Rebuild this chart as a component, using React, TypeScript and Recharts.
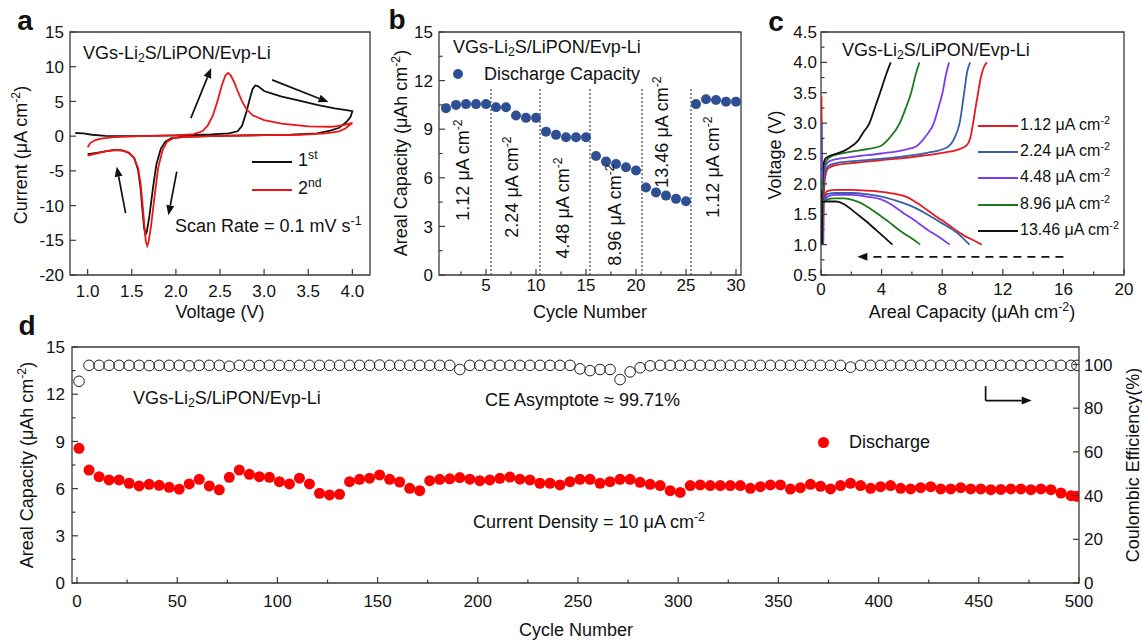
import React from 'react'
import {
  ComposedChart,
  ScatterChart,
  Line,
  Scatter,
  XAxis,
  YAxis,
  ReferenceLine,
  ReferenceArea,
} from 'recharts'

const FONT = '"Liberation Sans", Arial, Helvetica, sans-serif'
const AXIS = '#3a3a3a'
const INK = '#111'

// ---- a: cyclic voltammetry, [voltage (V), current (µA cm-2)]
const cvFirst: [number, number][] = [
  [0.86, 0.45], [0.95, 0.4], [1.05, 0.2], [1.2, 0.05], [1.5, 0], [2.0, 0.1], [2.4, 0.25],
  [2.6, 0.4], [2.7, 0.7], [2.75, 1.5], [2.8, 3.5], [2.84, 5.5], [2.87, 6.8], [2.9, 7.3],
  [2.93, 7.2], [3.0, 6.5], [3.1, 6.1], [3.2, 5.7], [3.4, 5.1], [3.6, 4.5], [3.8, 4.0],
  [3.95, 3.7], [4.0, 3.6], [3.98, 2.8], [3.93, 2.0], [3.85, 1.2], [3.75, 0.8], [3.6, 0.4],
  [3.3, 0.2], [3.0, 0.15], [2.5, 0.05], [2.1, -0.1], [1.95, -0.3], [1.88, -0.8], [1.83, -1.8],
  [1.78, -4], [1.74, -7.5], [1.7, -11.5], [1.67, -13.8], [1.655, -14.2], [1.64, -13.2],
  [1.62, -10.5], [1.6, -7.5], [1.57, -4.8], [1.53, -3.2], [1.47, -2.4], [1.4, -2.1],
  [1.3, -2.0], [1.2, -2.2], [1.1, -2.4], [1.0, -2.6],
]
const cvSecond: [number, number][] = [
  [1.0, -1.6], [1.03, -1.0], [1.08, -0.6], [1.15, -0.35], [1.3, -0.15], [1.6, 0], [2.0, 0.1],
  [2.2, 0.3], [2.3, 0.7], [2.36, 1.5], [2.42, 3], [2.47, 5], [2.52, 7.3], [2.56, 8.7],
  [2.59, 9.1], [2.62, 8.8], [2.66, 7.8], [2.7, 6.5], [2.75, 5.0], [2.8, 3.9], [2.87, 3.0],
  [3.0, 2.3], [3.2, 1.8], [3.5, 1.4], [3.76, 1.35], [3.9, 1.6], [4.0, 1.9], [3.97, 1.6],
  [3.92, 1.1], [3.85, 0.7], [3.7, 0.4], [3.4, 0.2], [3.0, 0.15], [2.5, 0.05], [2.1, -0.1],
  [1.97, -0.3], [1.9, -0.8], [1.85, -2], [1.8, -4.5], [1.76, -8.5], [1.72, -12.8],
  [1.69, -15.3], [1.675, -15.8], [1.66, -15.2], [1.64, -12.5], [1.62, -9.5], [1.6, -6.8],
  [1.57, -4.5], [1.52, -3.0], [1.45, -2.3], [1.38, -2.0], [1.3, -2.0], [1.2, -2.2],
  [1.1, -2.5], [1.0, -2.8],
]
// scan direction arrows: [fromV, fromI, toV, toI]
const cvArrows: [number, number, number, number][] = [
  [2.17, 2.6, 2.4, 9.8],
  [3.09, 8.1, 3.73, 4.9],
  [1.43, -11.1, 1.33, -4.4],
  [2.01, -5.1, 1.915, -11.4],
]

// ---- b: rate capability
const rateCycle = [1, 2, 3, 4, 5, 6, 7, 8, 9, 10, 11, 12, 13, 14, 15, 16, 17, 18, 19, 20, 21, 22, 23, 24, 25, 26, 27, 28, 29, 30]
const rateCapacity = [
  10.3, 10.5, 10.55, 10.55, 10.55, 10.35, 10.35, 9.85, 9.7, 9.7,
  8.85, 8.65, 8.5, 8.5, 8.5, 7.35, 7.0, 6.85, 6.65, 6.45,
  5.4, 5.1, 4.9, 4.7, 4.55, 10.55, 10.85, 10.8, 10.7, 10.7,
]
const rateBreaks = [5.5, 10.4, 15.4, 20.6, 25.5]

// ---- c: charge / discharge profiles, [capacity (µAh cm-2), voltage (V)]
const gcdRates = ['1.12', '2.24', '4.48', '8.96', '13.46']
const gcdColors = ['#e8171d', '#3a5daa', '#7c3cf0', '#1c7a1c', '#111111']
const gcdCharge: [number, number][][] = [
  [[0.15, 1.0], [0.18, 1.6], [0.22, 1.95], [0.3, 2.15], [0.45, 2.25], [1, 2.31], [2, 2.34], [4, 2.39], [6, 2.44], [8, 2.51], [9, 2.56], [9.6, 2.63], [9.85, 2.75], [10.04, 3.0], [10.2, 3.25], [10.37, 3.5], [10.55, 3.75], [10.75, 3.92], [10.95, 4.0]],
  [[0.12, 1.0], [0.15, 1.7], [0.2, 2.05], [0.3, 2.22], [0.5, 2.3], [1, 2.34], [3, 2.39], [5, 2.44], [7, 2.51], [8.3, 2.6], [8.8, 2.75], [9.15, 3.0], [9.45, 3.5], [9.65, 3.85], [9.85, 4.0]],
  [[0.1, 1.0], [0.13, 1.8], [0.2, 2.12], [0.3, 2.3], [0.6, 2.38], [2, 2.44], [4, 2.5], [5.5, 2.56], [6.3, 2.62], [6.9, 2.78], [7.45, 3.0], [7.75, 3.25], [8.02, 3.5], [8.25, 3.8], [8.45, 4.0]],
  [[0.08, 1.0], [0.11, 1.85], [0.18, 2.2], [0.3, 2.36], [0.6, 2.44], [1, 2.48], [2, 2.53], [3, 2.57], [3.9, 2.62], [4.5, 2.75], [5.2, 3.0], [5.6, 3.25], [5.95, 3.5], [6.25, 3.8], [6.5, 4.0]],
  [[0.06, 1.0], [0.09, 1.9], [0.15, 2.3], [0.3, 2.42], [0.8, 2.48], [1.4, 2.53], [1.9, 2.6], [2.4, 2.7], [2.8, 2.85], [3.2, 3.0], [3.55, 3.25], [3.9, 3.5], [4.3, 3.8], [4.6, 4.0]],
]
const gcdDischarge: [number, number][][] = [
  [[0.03, 3.45], [0.06, 2.5], [0.1, 1.8], [0.2, 1.78], [0.4, 1.88], [1, 1.9], [2, 1.9], [3, 1.89], [4, 1.87], [5, 1.83], [5.6, 1.79], [6, 1.74], [6.5, 1.66], [7, 1.57], [7.5, 1.48], [8, 1.4], [8.5, 1.31], [9, 1.22], [9.5, 1.14], [10, 1.08], [10.6, 1.0]],
  [[0.03, 3.0], [0.06, 2.3], [0.1, 1.75], [0.2, 1.74], [0.4, 1.83], [1, 1.85], [2, 1.85], [3, 1.83], [4, 1.79], [5, 1.72], [6, 1.63], [7, 1.5], [8, 1.35], [9, 1.19], [9.8, 1.0]],
  [[0.03, 2.5], [0.06, 2.0], [0.1, 1.72], [0.25, 1.74], [0.5, 1.8], [1, 1.82], [2, 1.82], [3, 1.79], [4, 1.74], [4.5, 1.68], [5, 1.6], [5.5, 1.51], [6, 1.43], [7, 1.25], [8, 1.09], [8.5, 1.0]],
  [[0.03, 2.1], [0.06, 1.8], [0.1, 1.68], [0.3, 1.73], [0.8, 1.76], [1.5, 1.76], [2, 1.74], [2.5, 1.7], [3, 1.63], [3.5, 1.55], [4, 1.46], [4.5, 1.37], [5, 1.27], [5.5, 1.18], [6, 1.1], [6.55, 1.0]],
  [[0.03, 1.9], [0.08, 1.7], [0.3, 1.71], [1, 1.71], [1.5, 1.67], [2, 1.58], [2.5, 1.48], [3, 1.38], [3.5, 1.27], [4, 1.16], [4.4, 1.07], [4.72, 1.0]],
]

// ---- d: long-term cycling at 10 µA cm-2
const longCycle = [
  1, 6, 11, 16, 21, 26, 31, 36, 41, 46,
  51, 56, 61, 66, 71, 76, 81, 86, 91, 96,
  101, 106, 111, 116, 121, 126, 131, 136, 141, 146,
  151, 156, 161, 166, 171, 176, 181, 186, 191, 196,
  201, 206, 211, 216, 221, 226, 231, 236, 241, 246,
  251, 256, 261, 266, 271, 276, 281, 286, 291, 296,
  301, 306, 311, 316, 321, 326, 331, 336, 341, 346,
  351, 356, 361, 366, 371, 376, 381, 386, 391, 396,
  401, 406, 411, 416, 421, 426, 431, 436, 441, 446,
  451, 456, 461, 466, 471, 476, 481, 486, 491, 496,
  499,
]
const longCapacity = [
  8.56, 7.18, 6.76, 6.55, 6.55, 6.34, 6.17, 6.27, 6.21, 6.08,
  5.96, 6.3, 6.59, 6.17, 5.92, 6.72, 7.18, 6.91, 6.76, 6.72,
  6.44, 6.3, 6.66, 6.3, 5.7, 5.6, 5.64, 6.44, 6.59, 6.66,
  6.87, 6.59, 6.42, 6.02, 5.87, 6.5, 6.59, 6.62, 6.7, 6.6,
  6.5, 6.55, 6.65, 6.73, 6.6, 6.55, 6.34, 6.34, 6.23, 6.44,
  6.59, 6.59, 6.34, 6.44, 6.59, 6.59, 6.4, 6.27, 6.19, 5.87,
  5.76, 6.19, 6.23, 6.19, 6.19, 6.19, 6.19, 6.02, 6.12, 6.23,
  6.23, 5.97, 6.06, 6.27, 6.15, 5.98, 6.19, 6.34, 6.19, 6.02,
  6.12, 6.19, 6.02, 5.98, 6.06, 6.12, 5.98, 5.98, 6.06, 5.98,
  5.98, 5.93, 5.95, 5.98, 5.98, 5.93, 5.98, 5.93, 5.72, 5.55,
  5.51,
]
const longCE = [
  92.3, 99.6, 99.6, 99.6, 99.6, 99.6, 99.6, 99.5, 99.6, 99.6,
  99.6, 99.4, 99.6, 99.6, 99.6, 99.2, 99.6, 99.6, 99.5, 99.6,
  99.6, 99.5, 99.6, 99.6, 99.6, 99.6, 99.6, 99.6, 99.6, 99.6,
  99.7, 99.6, 99.6, 99.6, 99.6, 99.6, 99.6, 99.6, 97.7, 99.6,
  99.6, 99.6, 99.6, 99.6, 99.6, 99.6, 99.6, 99.6, 99.6, 99.6,
  98.0, 97.2, 97.7, 97.7, 93.1, 96.6, 98.5, 99.4, 99.6, 99.6,
  99.6, 99.6, 99.6, 99.6, 99.6, 99.6, 99.6, 99.6, 99.6, 99.6,
  99.6, 99.6, 99.6, 99.6, 99.6, 99.6, 99.6, 98.8, 99.6, 99.6,
  99.6, 99.6, 99.6, 99.6, 99.6, 99.6, 99.6, 99.6, 99.6, 99.6,
  99.6, 99.6, 99.6, 99.6, 99.6, 99.6, 99.6, 99.6, 99.6, 99.6,
  99.6,
]

const toXY = (pts: [number, number][]) => pts.map(([x, y]) => ({ x, y }))
const cvFirstData = toXY(cvFirst)
const cvSecondData = toXY(cvSecond)
const rateData = rateCycle.map((c, i) => ({ x: c, y: rateCapacity[i] }))
const longData = longCycle.map((c, i) => ({ x: c, cap: longCapacity[i], ce: longCE[i] }))

const range = (a: number, b: number, step: number) => {
  const out: number[] = []
  for (let v = a; v <= b + 1e-9; v += step) out.push(Math.round(v * 1000) / 1000)
  return out
}
const every = (step: number) => (v: number) => Math.abs(v / step - Math.round(v / step)) < 1e-6

type Side = 'bottom' | 'left' | 'right'
function makeTick(side: Side, isMajor: (v: number) => boolean, fmt: (v: number) => string, gap: number) {
  return (props: any) => {
    const { x, y, payload } = props
    const v = payload.value as number
    const major = isMajor(v)
    const len = major ? 6 : 3.5
    const txt = { fontSize: 17, fill: INK, fontFamily: FONT }
    if (side === 'bottom') {
      return (
        <g>
          <line x1={x} x2={x} y1={y} y2={y - len} stroke={AXIS} strokeWidth={1.2} />
          {major && <text x={x} y={y + gap} textAnchor="middle" {...txt}>{fmt(v)}</text>}
        </g>
      )
    }
    if (side === 'left') {
      return (
        <g>
          <line x1={x} x2={x + len} y1={y} y2={y} stroke={AXIS} strokeWidth={1.2} />
          {major && <text x={x - gap} y={y} dy="0.36em" textAnchor="end" {...txt}>{fmt(v)}</text>}
        </g>
      )
    }
    return (
      <g>
        <line x1={x} x2={x - len} y1={y} y2={y} stroke={AXIS} strokeWidth={1.2} />
        {major && <text x={x + gap} y={y} dy="0.36em" textAnchor="start" {...txt}>{fmt(v)}</text>}
      </g>
    )
  }
}

function arrowShape(dashed: boolean) {
  return (p: any) => {
    const { x1, y1, x2, y2 } = p
    const a = Math.atan2(y2 - y1, x2 - x1)
    const L = 10
    const W = 4
    const bx = x2 - L * Math.cos(a)
    const by = y2 - L * Math.sin(a)
    const pts = `${x2},${y2} ${bx - W * Math.sin(a)},${by + W * Math.cos(a)} ${bx + W * Math.sin(a)},${by - W * Math.cos(a)}`
    return (
      <g>
        <line x1={x1} y1={y1} x2={bx} y2={by} stroke={INK} strokeWidth={1.7} strokeDasharray={dashed ? '8 6' : undefined} />
        <polygon points={pts} fill={INK} />
      </g>
    )
  }
}

const axisCommon = { tickSize: 0, tickMargin: 0, axisLine: false, tickLine: false, interval: 0 as const, allowDataOverflow: true }

type TxtProps = { x: number; y: number; children: React.ReactNode; size?: number; center?: boolean; rotate?: boolean; bold?: boolean }
function Txt({ x, y, children, size = 18, center, rotate, bold }: TxtProps) {
  const transform = rotate
    ? 'translate(-50%,-50%) rotate(-90deg)'
    : center
      ? 'translate(-50%,-50%)'
      : 'translate(0,-50%)'
  return (
    <div
      style={{
        position: 'absolute', left: x, top: y, transform, whiteSpace: 'nowrap',
        fontSize: size, lineHeight: 1, fontWeight: bold ? 700 : 400, color: INK,
      }}
    >
      {children}
    </div>
  )
}
const Sup = ({ children }: { children: React.ReactNode }) => (
  <span style={{ fontSize: '0.68em', verticalAlign: '0.55em', lineHeight: 0 }}>{children}</span>
)
const Sub = ({ children }: { children: React.ReactNode }) => (
  <span style={{ fontSize: '0.68em', verticalAlign: '-0.25em', lineHeight: 0 }}>{children}</span>
)
const CellName = () => (
  <>VGs-Li<Sub>2</Sub>S/LiPON/Evp-Li</>
)
const Swatch = ({ x, y, color }: { x: number; y: number; color: string }) => (
  <div style={{ position: 'absolute', left: x, top: y - 1, width: 40, height: 2, background: color }} />
)
const Dot = ({ x, y, r, color }: { x: number; y: number; r: number; color: string }) => (
  <div style={{ position: 'absolute', left: x - r, top: y - r, width: 2 * r, height: 2 * r, borderRadius: '50%', background: color }} />
)

function PanelA() {
  return (
    <div style={{ position: 'absolute', left: 0, top: 0 }}>
      <ComposedChart width={380} height={320} margin={{ top: 32, right: 10, bottom: 0, left: 0 }}>
        <XAxis type="number" dataKey="x" domain={[0.8, 4.2]} ticks={range(1, 4, 0.5)} height={45}
          tick={makeTick('bottom', () => true, (v) => v.toFixed(1), 22)} {...axisCommon} />
        <YAxis type="number" dataKey="y" domain={[-20, 15]} ticks={range(-20, 15, 5)} width={70}
          tick={makeTick('left', () => true, (v) => String(v), 6)} {...axisCommon} />
        <ReferenceArea x1={0.8} x2={4.2} y1={-20} y2={15} fill="none" fillOpacity={0} stroke={AXIS} strokeWidth={1.3} />
        <Line data={cvFirstData} dataKey="y" type="linear" stroke="#111" strokeWidth={1.8} dot={false} isAnimationActive={false} />
        <Line data={cvSecondData} dataKey="y" type="linear" stroke="#f01414" strokeWidth={1.8} dot={false} isAnimationActive={false} />
        {cvArrows.map((a, i) => (
          <ReferenceLine key={i} segment={[{ x: a[0], y: a[1] }, { x: a[2], y: a[3] }]} shape={arrowShape(false)} ifOverflow="visible" />
        ))}
      </ComposedChart>
    </div>
  )
}

function PanelB() {
  return (
    <div style={{ position: 'absolute', left: 380, top: 0 }}>
      <ScatterChart width={380} height={320} margin={{ top: 32, right: 19, bottom: 0, left: 0 }}>
        <XAxis type="number" dataKey="x" domain={[0.3, 30.5]} ticks={range(2.5, 30, 2.5)} height={45}
          tick={makeTick('bottom', every(5), (v) => String(v), 16)} {...axisCommon} />
        <YAxis type="number" dataKey="y" domain={[0, 15]} ticks={range(0, 15, 1.5)} width={59}
          tick={makeTick('left', every(3), (v) => String(v), 6)} {...axisCommon} />
        <ReferenceArea x1={0.3} x2={30.5} y1={0} y2={15} fill="none" fillOpacity={0} stroke={AXIS} strokeWidth={1.3} />
        {rateBreaks.map((b) => (
          <ReferenceLine key={b} segment={[{ x: b, y: 0 }, { x: b, y: 11.5 }]} stroke="#333" strokeWidth={1.1} strokeDasharray="2 2" />
        ))}
        <Scatter data={rateData} isAnimationActive={false}
          shape={(p: any) => <circle cx={p.cx} cy={p.cy} r={5} fill="#2e4f94" />} />
      </ScatterChart>
    </div>
  )
}

function PanelC() {
  return (
    <div style={{ position: 'absolute', left: 760, top: 0 }}>
      <ComposedChart width={382} height={320} margin={{ top: 32, right: 18, bottom: 0, left: 0 }}>
        <XAxis type="number" dataKey="x" domain={[0, 20]} ticks={range(0, 20, 2)} height={45}
          tick={makeTick('bottom', every(4), (v) => String(v), 20)} {...axisCommon} />
        <YAxis type="number" dataKey="y" domain={[0.5, 4.5]} ticks={range(0.5, 4.5, 0.25)} width={61}
          tick={makeTick('left', every(0.5), (v) => v.toFixed(1), 4)} {...axisCommon} />
        <ReferenceArea x1={0} x2={20} y1={0.5} y2={4.5} fill="none" fillOpacity={0} stroke={AXIS} strokeWidth={1.3} />
        {gcdRates.map((r, i) => (
          <Line key={'c' + r} data={toXY(gcdCharge[i])} dataKey="y" type="monotone" stroke={gcdColors[i]}
            strokeWidth={1.8} dot={false} isAnimationActive={false} />
        ))}
        {gcdRates.map((r, i) => (
          <Line key={'d' + r} data={toXY(gcdDischarge[i])} dataKey="y" type="monotone" stroke={gcdColors[i]}
            strokeWidth={1.8} dot={false} isAnimationActive={false} />
        ))}
        <ReferenceLine segment={[{ x: 16, y: 0.8 }, { x: 2.4, y: 0.8 }]} shape={arrowShape(true)} ifOverflow="visible" />
      </ComposedChart>
    </div>
  )
}

function PanelD() {
  return (
    <div style={{ position: 'absolute', left: 0, top: 320 }}>
      <ScatterChart width={1142} height={320} margin={{ top: 27, right: 23, bottom: 0, left: 0 }}>
        <XAxis type="number" dataKey="x" domain={[-2.5, 500]} ticks={range(0, 500, 25)} height={57}
          tick={makeTick('bottom', every(50), (v) => String(v), 24)} {...axisCommon} />
        <YAxis yAxisId="left" type="number" dataKey="cap" domain={[0, 15]} ticks={range(0, 15, 1.5)} width={72}
          tick={makeTick('left', every(3), (v) => String(v), 7)} {...axisCommon} />
        <YAxis yAxisId="right" orientation="right" type="number" dataKey="ce" domain={[0, 108]} ticks={range(0, 100, 20)} width={40}
          tick={makeTick('right', () => true, (v) => String(v), 5)} {...axisCommon} />
        <ReferenceArea yAxisId="left" x1={-2.5} x2={500} y1={0} y2={15} fill="none" fillOpacity={0} stroke={AXIS} strokeWidth={1.3} />
        <Scatter yAxisId="right" data={longData} isAnimationActive={false}
          shape={(p: any) => <circle cx={p.cx} cy={p.cy} r={5.3} fill="none" stroke="#222" strokeWidth={1} />} />
        <Scatter yAxisId="left" data={longData} isAnimationActive={false}
          shape={(p: any) => <circle cx={p.cx} cy={p.cy} r={5.5} fill="#ff0000" />} />
        <ReferenceLine yAxisId="right" segment={[{ x: 453.4, y: 90.1 }, { x: 453.4, y: 83.5 }]} stroke={INK} strokeWidth={1.7} />
        <ReferenceLine yAxisId="right" segment={[{ x: 453.4, y: 83.5 }, { x: 476.4, y: 83.5 }]} shape={arrowShape(false)} />
      </ScatterChart>
    </div>
  )
}

export default function App() {
  return (
    <div style={{ position: 'absolute', left: 0, top: 0, width: 1142, height: 640, background: '#fff', fontFamily: FONT, overflow: 'hidden' }}>
      <PanelA />
      <PanelB />
      <PanelC />
      <PanelD />

      {/* panel a text */}
      <Txt x={25} y={21} size={28} bold center>a</Txt>
      <Txt x={83} y={53}><CellName /></Txt>
      <Swatch x={252} y={162} color="#111" />
      <Txt x={298} y={160}>1<Sup>st</Sup></Txt>
      <Swatch x={252} y={190} color="#f01414" />
      <Txt x={298} y={188}>2<Sup>nd</Sup></Txt>
      <Txt x={175} y={226}>Scan Rate = 0.1 mV s<Sup>-1</Sup></Txt>
      <Txt x={21} y={155} rotate>Current (μA cm<Sup>-2</Sup>)</Txt>
      <Txt x={220} y={312} center>Voltage (V)</Txt>

      {/* panel b text */}
      <Txt x={397} y={20} size={28} bold center>b</Txt>
      <Txt x={453} y={47}><CellName /></Txt>
      <Dot x={458} y={74} r={5} color="#2e4f94" />
      <Txt x={484} y={74}>Discharge Capacity</Txt>
      <Txt x={463} y={170} rotate>1.12 μA cm<Sup>-2</Sup></Txt>
      <Txt x={512} y={187} rotate>2.24 μA cm<Sup>-2</Sup></Txt>
      <Txt x={563} y={208} rotate>4.48 μA cm<Sup>-2</Sup></Txt>
      <Txt x={615} y={215} rotate>8.96 μA cm<Sup>-2</Sup></Txt>
      <Txt x={662} y={132} rotate>13.46 μA cm<Sup>-2</Sup></Txt>
      <Txt x={713} y={167} rotate>1.12 μA cm<Sup>-2</Sup></Txt>
      <Txt x={401} y={153} rotate>Areal Capacity (μAh cm<Sup>-2</Sup>)</Txt>
      <Txt x={590} y={312} center>Cycle Number</Txt>

      {/* panel c text */}
      <Txt x={776} y={22} size={28} bold center>c</Txt>
      <Txt x={842} y={50}><CellName /></Txt>
      {gcdRates.map((r, i) => (
        <React.Fragment key={r}>
          <Swatch x={978} y={126 + i * 26.2} color={gcdColors[i]} />
          <Txt x={1020} y={125 + i * 26.2} size={16}>{r} μA cm<Sup>-2</Sup></Txt>
        </React.Fragment>
      ))}
      <Txt x={775} y={155} rotate>Voltage (V)</Txt>
      <Txt x={972} y={312} center>Areal Capacity (μAh cm<Sup>-2</Sup>)</Txt>

      {/* panel d text */}
      <Txt x={27} y={326} size={28} bold center>d</Txt>
      <Txt x={133} y={398}><CellName /></Txt>
      <Txt x={485} y={400}>CE Asymptote ≈ 99.71%</Txt>
      <Dot x={823} y={442} r={5.5} color="#ff0000" />
      <Txt x={849} y={442}>Discharge</Txt>
      <Txt x={473} y={522}>Current Density = 10 μA cm<Sup>-2</Sup></Txt>
      <Txt x={27} y={465} rotate>Areal Capacity (μAh cm<Sup>-2</Sup>)</Txt>
      <Txt x={1133} y={465} rotate>Coulombic Efficiency(%)</Txt>
      <Txt x={576} y={630} center>Cycle Number</Txt>
    </div>
  )
}
